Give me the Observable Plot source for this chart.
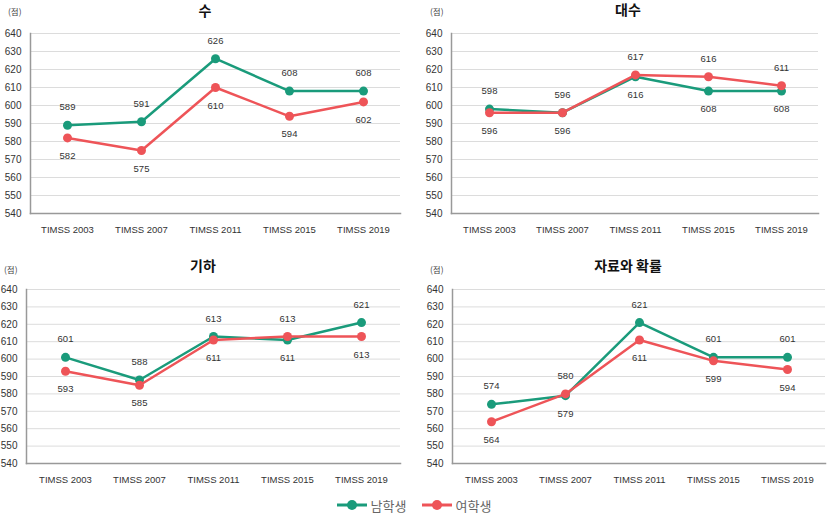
<!DOCTYPE html>
<html>
<head>
<meta charset="utf-8">
<script src="https://cdn.jsdelivr.net/npm/d3@7"></script>
<script src="https://cdn.jsdelivr.net/npm/@observablehq/plot@0.6"></script>
<style>
  html, body { margin: 0; padding: 0; background: #fff; }
  body { font-family: "Liberation Sans", Arial, "Noto Sans CJK KR", sans-serif; }
  #wrap { position: relative; width: 827px; height: 514px; overflow: hidden; }
  .panel { position: absolute; }
  .title { position: absolute; font-weight: bold; font-size: 14px; color: #111; transform: translate(-50%, -50%); white-space: nowrap; font-family: "Noto Sans CJK KR", sans-serif; }
  .unit { position: absolute; font-size: 8.5px; color: #444; transform: translateY(-50%); font-family: "Noto Sans CJK KR", sans-serif; }
  #legend { position: absolute; left: 0; top: 496px; width: 827px; height: 18px; display: flex; justify-content: center; align-items: center; gap: 14px; font-family: "Noto Sans CJK KR", sans-serif; font-size: 13px; color: #666; }
  .item { display: flex; align-items: center; gap: 3px; }
</style>
</head>
<body>
<div id="wrap"></div>
<script>
const years = ["TIMSS 2003", "TIMSS 2007", "TIMSS 2011", "TIMSS 2015", "TIMSS 2019"];
const subjects = ["수", "대수", "기하", "자료와 확률"];
const sexes = ["남학생", "여학생"];
const yTicks = [540, 550, 560, 570, 580, 590, 600, 610, 620, 630, 640];

const boysNumber   = [589, 591, 626, 608, 608];
const girlsNumber  = [582, 575, 610, 594, 602];
const boysAlgebra  = [598, 596, 616, 608, 608];
const girlsAlgebra = [596, 596, 617, 616, 611];
const boysGeometry  = [601, 588, 613, 611, 621];
const girlsGeometry = [593, 585, 611, 613, 613];
const boysData  = [574, 579, 621, 601, 601];
const girlsData = [564, 580, 611, 599, 594];

const colors = ["#1a9b7b", "#ee5458"];

const panels = [
  {title: subjects[0], boys: boysNumber, girls: girlsNumber, left: 0, top: 0, width: 410, height: 245, ml: 30, mr: 10, mt: 33, mb: 32, tx: 205, ty: 10, ux: 8, uy: 11},
  {title: subjects[1], boys: boysAlgebra, girls: girlsAlgebra, left: 410, top: 0, width: 417, height: 245, ml: 41, mr: 9, mt: 33, mb: 32, tx: 628, ty: 9, ux: 430, uy: 11},
  {title: subjects[2], boys: boysGeometry, girls: girlsGeometry, left: 0, top: 250, width: 410, height: 245, ml: 26, mr: 10, mt: 39, mb: 32, tx: 203, ty: 265, ux: 4, uy: 269},
  {title: subjects[3], boys: boysData, girls: girlsData, left: 410, top: 250, width: 417, height: 245, ml: 42, mr: 2, mt: 39, mb: 32, tx: 628, ty: 265, ux: 430, uy: 269}
];

const wrap = document.getElementById("wrap");

for (const p of panels) {
  const rows = [];
  years.forEach((yr, i) => {
    const b = p.boys[i], g = p.girls[i];
    rows.push({year: yr, sex: sexes[0], value: b, above: b >= g});
    rows.push({year: yr, sex: sexes[1], value: g, above: g > b});
  });
  const boysRows = rows.filter(d => d.sex === sexes[0]);
  const girlsRows = rows.filter(d => d.sex === sexes[1]);

  const chart = Plot.plot({
    width: p.width,
    height: p.height,
    marginLeft: p.ml,
    marginRight: p.mr,
    marginTop: p.mt,
    marginBottom: p.mb,
    style: {fontFamily: "'Liberation Sans', Arial, sans-serif", fontSize: "10px", color: "#333", background: "transparent"},
    x: {type: "point", domain: years, padding: 0.5, label: null},
    y: {domain: [540, 640], ticks: yTicks, label: null},
    color: {domain: sexes, range: colors},
    marks: [
      Plot.gridY(yTicks, {stroke: "#dcdcdc", strokeOpacity: 1, strokeWidth: 1}),
      Plot.axisY(yTicks, {tickSize: 0, tickPadding: 9, fontSize: 10, fill: "#333", label: null}),
      Plot.axisX({tickSize: 0, tickPadding: 13, fontSize: 9.5, fill: "#333", label: null}),
      Plot.frame({anchor: "left", stroke: "#999", strokeWidth: 1.5}),
      Plot.frame({anchor: "bottom", stroke: "#999", strokeWidth: 1.5}),
      Plot.line(boysRows, {x: "year", y: "value", stroke: "sex", strokeWidth: 2.5}),
      Plot.dot(boysRows, {x: "year", y: "value", fill: "sex", r: 4.5}),
      Plot.line(girlsRows, {x: "year", y: "value", stroke: "sex", strokeWidth: 2.5}),
      Plot.dot(girlsRows, {x: "year", y: "value", fill: "sex", r: 4.5}),
      Plot.text(rows.filter(d => d.above), {x: "year", y: "value", text: d => String(d.value), dy: -18, fill: "#333", fontSize: 9.5}),
      Plot.text(rows.filter(d => !d.above), {x: "year", y: "value", text: d => String(d.value), dy: 18, fill: "#333", fontSize: 9.5})
    ]
  });
  chart.classList.add("panel");
  chart.style.left = p.left + "px";
  chart.style.top = p.top + "px";
  wrap.appendChild(chart);

  const t = document.createElement("div");
  t.className = "title";
  t.textContent = p.title;
  t.style.left = p.tx + "px";
  t.style.top = p.ty + "px";
  wrap.appendChild(t);

  const u = document.createElement("div");
  u.className = "unit";
  u.textContent = "(점)";
  u.style.left = p.ux + "px";
  u.style.top = p.uy + "px";
  wrap.appendChild(u);
}

// legend
const legend = document.createElement("div");
legend.id = "legend";
sexes.forEach((s, i) => {
  const item = document.createElement("div");
  item.className = "item";
  const sw = d3.create("svg").attr("width", 32).attr("height", 12);
  sw.append("line").attr("x1", 1).attr("x2", 31).attr("y1", 6).attr("y2", 6).attr("stroke", colors[i]).attr("stroke-width", 3);
  sw.append("circle").attr("cx", 16).attr("cy", 6).attr("r", 5).attr("fill", colors[i]);
  item.appendChild(sw.node());
  const lab = document.createElement("span");
  lab.textContent = s;
  item.appendChild(lab);
  legend.appendChild(item);
});
wrap.appendChild(legend);
</script>
</body>
</html>
